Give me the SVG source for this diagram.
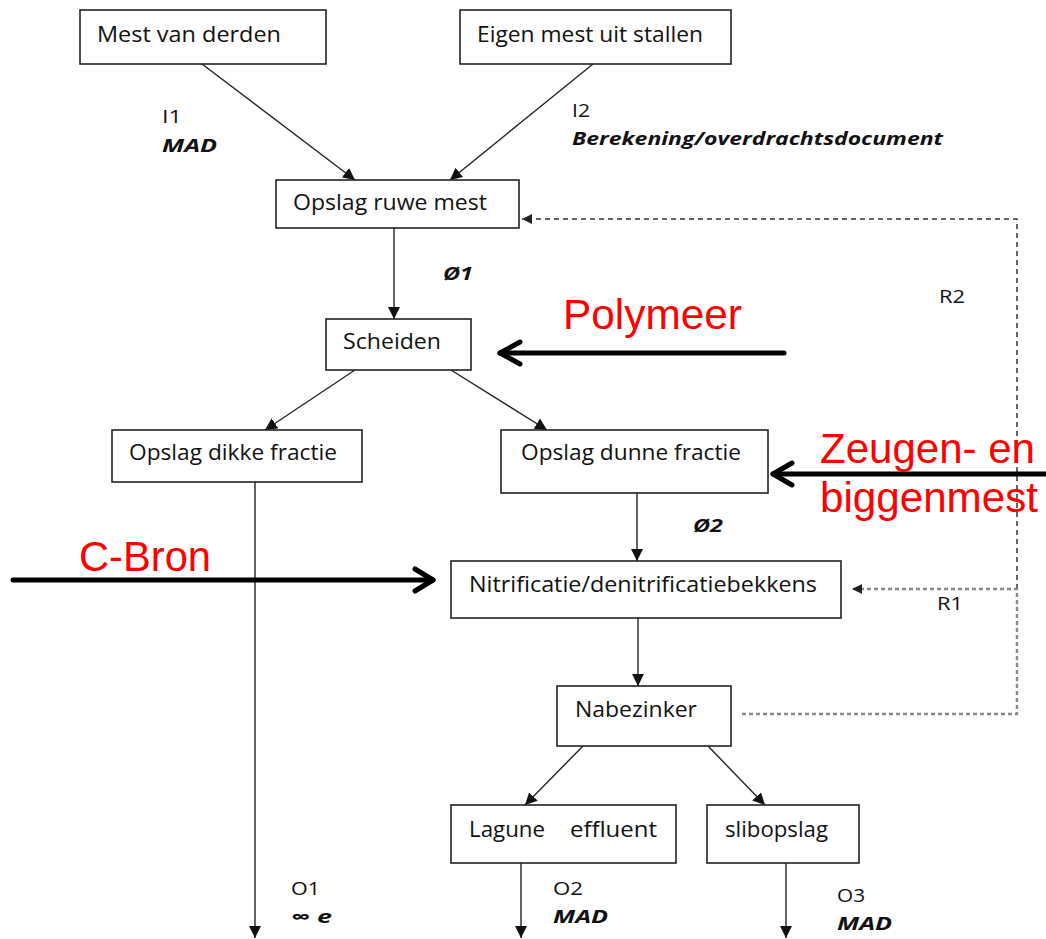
<svg xmlns="http://www.w3.org/2000/svg" width="1046" height="939" viewBox="0 0 1046 939">
<style>
.box{fill:#fff;stroke:#222;stroke-width:1.6}
.t{font-family:"Open Sans","Liberation Sans",sans-serif;font-size:21px;fill:#111}
.l{font-family:"Open Sans","Liberation Sans",sans-serif;font-size:18px;fill:#111}
.b{font-weight:bold;font-style:italic}
.red{font-family:"Liberation Sans",Arial,sans-serif;font-size:42px;fill:#ff0000}
.c{stroke:#222;stroke-width:1.4;fill:none;marker-end:url(#ah)}
.thick{stroke:#000;stroke-width:5;fill:none;stroke-linecap:round;stroke-linejoin:round}
.d1{stroke:#333;stroke-width:1.5;fill:none;stroke-dasharray:5 4}
.d2{stroke:#8a8a8a;stroke-width:2.4;fill:none;stroke-dasharray:4 3}
</style>
<defs>
<marker id="ah" viewBox="0 0 12 12" refX="12" refY="6" markerWidth="12" markerHeight="12" markerUnits="userSpaceOnUse" orient="auto"><path d="M0,0 L12,6 L0,12 z" fill="#111"/></marker>
<marker id="ahd" viewBox="0 0 10 10" refX="10" refY="5" markerWidth="10" markerHeight="10" markerUnits="userSpaceOnUse" orient="auto"><path d="M0,0 L10,5 L0,10 z" fill="#222"/></marker>
</defs>

<g id="connectors">
<line class="c" x1="202" y1="64" x2="355" y2="180"/>
<line class="c" x1="593" y1="64" x2="450" y2="180"/>
<line class="c" x1="394" y1="228" x2="394" y2="319"/>
<line class="c" x1="355" y1="370" x2="265" y2="430"/>
<line class="c" x1="451" y1="370" x2="547" y2="430"/>
<line class="c" x1="637" y1="493" x2="637" y2="561"/>
<line class="c" x1="638" y1="618" x2="638" y2="686"/>
<line class="c" x1="583" y1="746" x2="525" y2="805"/>
<line class="c" x1="708" y1="746" x2="765" y2="805"/>
<line class="c" x1="255" y1="482" x2="255" y2="938"/>
<line class="c" x1="521" y1="863" x2="521" y2="938"/>
<line class="c" x1="786" y1="863" x2="786" y2="938"/>
<path class="d1" d="M1017,589 L1017,219 L522,219" marker-end="url(#ahd)"/>
<path class="d2" d="M742,714 L1017,714 L1017,589 L852,589" marker-end="url(#ahd)"/>
<g id="thick-arrows">
<line class="thick" x1="784" y1="353" x2="500" y2="353"/>
<polyline class="thick" points="520,342 500,353 520,364"/>
<line class="thick" x1="1046" y1="474" x2="773" y2="474"/>
<polyline class="thick" points="792,463 773,474 792,485"/>
<line class="thick" x1="13" y1="580" x2="433" y2="580"/>
<polyline class="thick" points="415,569 433,580 415,591"/>
</g>
</g>

<g id="n-mest-derden"><rect class="box" x="80" y="10" width="246" height="54"/><text class="t" x="97" y="42" textLength="184" lengthAdjust="spacingAndGlyphs">Mest van derden</text></g>
<g id="n-eigen-mest"><rect class="box" x="460" y="10" width="271" height="54"/><text class="t" x="477" y="42" textLength="226" lengthAdjust="spacingAndGlyphs">Eigen mest uit stallen</text></g>
<g id="n-opslag-ruwe"><rect class="box" x="276" y="180" width="243" height="48"/><text class="t" x="293" y="210" textLength="194" lengthAdjust="spacingAndGlyphs">Opslag ruwe mest</text></g>
<g id="n-scheiden"><rect class="box" x="326" y="319" width="145" height="51"/><text class="t" x="343" y="349" textLength="98" lengthAdjust="spacingAndGlyphs">Scheiden</text></g>
<g id="n-dikke"><rect class="box" x="112" y="430" width="250" height="52"/><text class="t" x="129" y="460" textLength="208" lengthAdjust="spacingAndGlyphs">Opslag dikke fractie</text></g>
<g id="n-dunne"><rect class="box" x="501" y="430" width="267" height="63"/><text class="t" x="521" y="460" textLength="220" lengthAdjust="spacingAndGlyphs">Opslag dunne fractie</text></g>
<g id="n-nitri"><rect class="box" x="451" y="561" width="390" height="57"/><text class="t" x="469" y="592" textLength="348" lengthAdjust="spacingAndGlyphs">Nitrificatie/denitrificatiebekkens</text></g>
<g id="n-nabezinker"><rect class="box" x="557" y="686" width="174" height="60"/><text class="t" x="575" y="717" textLength="122" lengthAdjust="spacingAndGlyphs">Nabezinker</text></g>
<g id="n-lagune"><rect class="box" x="451" y="805" width="225" height="58"/><text class="t" x="469" y="837" textLength="76" lengthAdjust="spacingAndGlyphs">Lagune</text><text class="t" x="570" y="837" textLength="87" lengthAdjust="spacingAndGlyphs">effluent</text></g>
<g id="n-slib"><rect class="box" x="707" y="805" width="152" height="58"/><text class="t" x="725" y="837" textLength="103" lengthAdjust="spacingAndGlyphs">slibopslag</text></g>

<g id="labels">
<text class="l" x="162" y="123" textLength="20" lengthAdjust="spacingAndGlyphs">I1</text>
<text class="l b" x="162" y="152" textLength="55" lengthAdjust="spacingAndGlyphs">MAD</text>
<text class="l" x="572" y="117" textLength="18" lengthAdjust="spacingAndGlyphs">I2</text>
<text class="l b" x="572" y="145" textLength="371" lengthAdjust="spacingAndGlyphs">Berekening/overdrachtsdocument</text>
<text class="l b" x="443" y="280" textLength="30" lengthAdjust="spacingAndGlyphs">Ø1</text>
<text class="l" x="939" y="303" textLength="26" lengthAdjust="spacingAndGlyphs">R2</text>
<text class="l b" x="693" y="532" textLength="30" lengthAdjust="spacingAndGlyphs">Ø2</text>
<text class="l" x="937" y="610" textLength="26" lengthAdjust="spacingAndGlyphs">R1</text>
<text class="l" x="291" y="895" textLength="29" lengthAdjust="spacingAndGlyphs">O1</text>
<text class="l b" x="291" y="923" textLength="41" lengthAdjust="spacingAndGlyphs">∞ e</text>
<text class="l" x="553" y="895" textLength="30" lengthAdjust="spacingAndGlyphs">O2</text>
<text class="l b" x="553" y="923" textLength="55" lengthAdjust="spacingAndGlyphs">MAD</text>
<text class="l" x="837" y="902" textLength="28" lengthAdjust="spacingAndGlyphs">O3</text>
<text class="l b" x="837" y="930" textLength="55" lengthAdjust="spacingAndGlyphs">MAD</text>
</g>

<g id="red-labels">
<text class="red" x="563" y="329" textLength="179" lengthAdjust="spacingAndGlyphs">Polymeer</text>
<text class="red" x="820" y="463" textLength="215" lengthAdjust="spacingAndGlyphs">Zeugen- en</text>
<text class="red" x="820" y="512" textLength="218" lengthAdjust="spacingAndGlyphs">biggenmest</text>
<text class="red" x="79" y="571" textLength="132" lengthAdjust="spacingAndGlyphs">C-Bron</text>
</g>
</svg>
